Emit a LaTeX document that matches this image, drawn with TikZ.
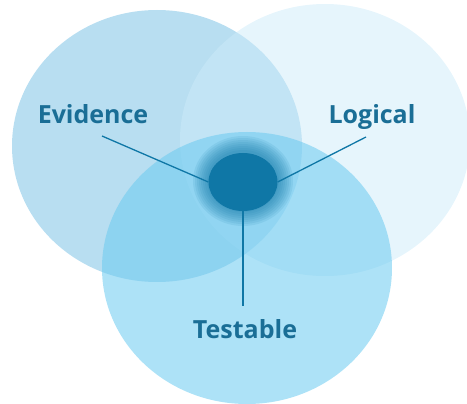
\documentclass[tikz,border=0pt]{standalone}
\usepackage{fontspec}
\setmainfont{Open Sans}
\usetikzlibrary{shapes.geometric}
\definecolor{leftblue}{RGB}{184,222,241}
\definecolor{rightblue}{RGB}{205,235,249}
\definecolor{lowblue}{RGB}{106,202,240}
\definecolor{hubblue}{RGB}{15,119,166}
\definecolor{txtblue}{RGB}{26,110,150}
\begin{document}
\begin{tikzpicture}[x=1pt, y=-1pt,
	bubble/.style = {ellipse, inner sep=0pt, minimum width=290pt, minimum height=272pt},
	word/.style = {anchor=base, text=txtblue, font=\fontsize{25}{29}\selectfont\bfseries},
	hub/.style = {ellipse, inner sep=0pt, fill=hubblue, minimum width=69pt, minimum height=58pt},
	spoke/.style = {draw=hubblue, line width=1.3pt}]
	\useasboundingbox (0,0) rectangle (467,404);
	% the three circles
	\node[bubble] (evid) [fill=leftblue] at (157,146) {};
	\node[bubble] (logi) [fill=rightblue, fill opacity=0.5] at (325,140) {};
	\node[bubble] (test) [fill=lowblue, fill opacity=0.55] at (247,268) {};
	% glow round the centre
	\foreach \r in {16,14,...,2}
		\fill[hubblue, opacity=0.1] (243,181) ellipse [x radius={(34+\r)*1pt}, y radius={(29+\r)*1pt}];
	\node[hub] (core) at (243,182) {};
	% labels
	\node[word] (evidtxt) at (93,124) {Evidence};
	\node[word] (logitxt) at (372,124) {Logical};
	\node[word] (testtxt) at (245,338) {Testable};
	\coordinate (e1) at (102,136);
	\coordinate (l1) at (366,137);
	\coordinate (t1) at (243,306);
	\path[spoke]
		(e1) edge (core.west)
		(l1) edge (core.east)
		(core.south) edge (t1);
\end{tikzpicture}
\end{document}
